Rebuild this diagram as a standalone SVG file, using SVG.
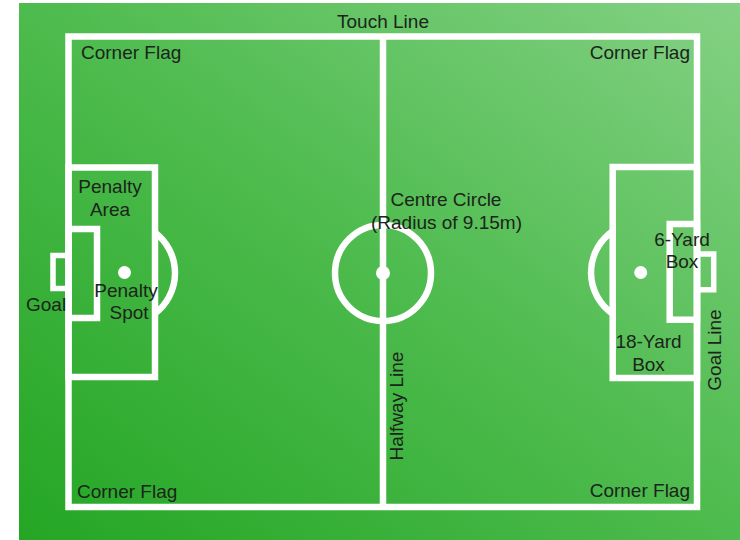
<svg xmlns="http://www.w3.org/2000/svg" width="740" height="540" viewBox="0 0 740 540">
<defs>
<linearGradient id="grass" x1="0" y1="1" x2="1" y2="0">
<stop offset="0" stop-color="#24a624"/>
<stop offset="0.5" stop-color="#4dbb4d"/>
<stop offset="1" stop-color="#84d184"/>
</linearGradient>
</defs>
<style>
.ln{fill:none;stroke:#ffffff;stroke-width:6.5}
.gl{fill:none;stroke:#ffffff;stroke-width:5.5}
.dot{fill:#ffffff}
text{font-family:"Liberation Sans",Arial,sans-serif;font-size:19px;fill:#1c241c}
.m{text-anchor:middle}
.e{text-anchor:end}
</style>
<rect x="0" y="0" width="740" height="540" fill="#ffffff"/>
<rect x="19" y="3" width="721" height="537" fill="url(#grass)"/>
<g id="pitch">
<rect class="ln" x="68.5" y="36.5" width="628.5" height="470.5"/>
<line class="ln" x1="383" y1="36.5" x2="383" y2="507"/>
</g>
<g id="centre-circle">
<circle class="ln" cx="383" cy="273" r="48"/>
<circle class="dot" cx="383" cy="273" r="7"/>
</g>
<g id="left-penalty-area">
<rect class="ln" x="68.5" y="167.5" width="86.5" height="209.5"/>
<path class="ln" d="M155,232.5 A51,51 0 0 1 155,313.5"/>
<circle class="dot" cx="124.5" cy="272.5" r="6.5"/>
</g>
<g id="left-six-yard-box">
<rect class="ln" x="68.5" y="229" width="28.5" height="89"/>
</g>
<g id="left-goal">
<path class="gl" d="M68.5,255.5 H53 V288.5 H68.5"/>
</g>
<g id="right-penalty-area">
<rect class="ln" x="612.7" y="167" width="84.3" height="211"/>
<path class="ln" d="M612.7,231.3 A50,50 0 0 0 612.7,313.7"/>
<circle class="dot" cx="640.7" cy="272.5" r="6.5"/>
</g>
<g id="right-six-yard-box">
<rect class="ln" x="669.7" y="224" width="27.3" height="95.7"/>
</g>
<g id="right-goal">
<path class="gl" d="M697,254 H713.7 V289.7 H697"/>
</g>
<g id="labels">
<text class="m" x="383" y="28">Touch Line</text>
<text x="81" y="59">Corner Flag</text>
<text class="e" x="690" y="59">Corner Flag</text>
<text x="77" y="498">Corner Flag</text>
<text class="e" x="690" y="497">Corner Flag</text>
<text class="m" x="110" y="193">Penalty</text>
<text class="m" x="110" y="216">Area</text>
<text x="26" y="311">Goal</text>
<text class="m" x="126" y="297">Penalty</text>
<text class="m" x="129" y="319">Spot</text>
<text class="m" x="446" y="206">Centre Circle</text>
<text class="m" x="446.5" y="229">(Radius of 9.15m)</text>
<text class="m" transform="translate(402.5,406) rotate(-90)">Halfway Line</text>
<text class="m" transform="translate(720.5,350) rotate(-90)">Goal Line</text>
<text class="m" x="682" y="246">6-Yard</text>
<text class="m" x="682" y="268">Box</text>
<text class="m" x="648.5" y="348">18-Yard</text>
<text class="m" x="648.5" y="371">Box</text>
</g>
</svg>
